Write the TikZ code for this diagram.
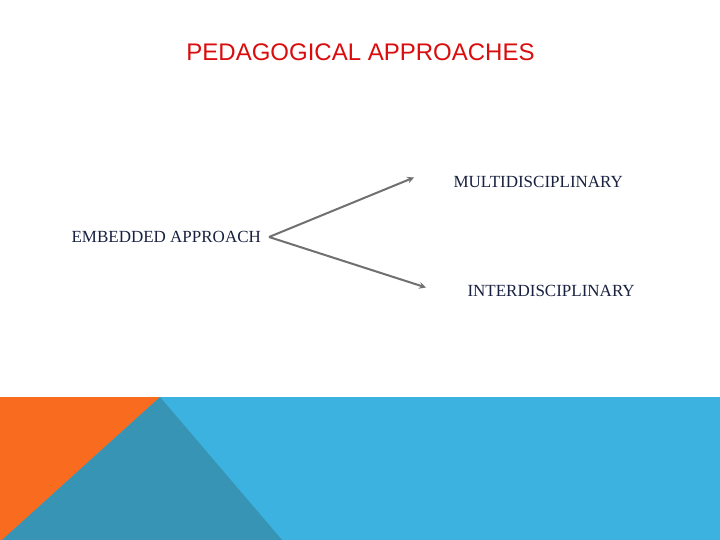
\documentclass[tikz,border=0pt]{standalone}
\usepackage{fontspec}
\setmainfont{Liberation Serif}
\newfontfamily\titlefont{Liberation Sans}
\usetikzlibrary{arrows}

\newlength{\du}
\setlength{\du}{1pt}

\begin{document}
\begin{tikzpicture}
\pgftransformxscale{1.000000}
\pgftransformyscale{-1.000000}
\useasboundingbox (0\du,0\du) rectangle (720\du,540\du);
\definecolor{dialinecolor}{rgb}{1.000000, 1.000000, 1.000000}
\pgfsetfillcolor{dialinecolor}
\fill (0\du,0\du)--(720\du,0\du)--(720\du,540\du)--(0\du,540\du)--cycle;
% bottom band
\definecolor{dialinecolor}{rgb}{0.231373, 0.698039, 0.874510}
\pgfsetfillcolor{dialinecolor}
\fill (0\du,397\du)--(720\du,397\du)--(720\du,540\du)--(0\du,540\du)--cycle;
\definecolor{dialinecolor}{rgb}{0.976471, 0.419608, 0.117647}
\pgfsetfillcolor{dialinecolor}
\fill (0\du,397\du)--(160\du,397\du)--(2\du,540\du)--(0\du,540\du)--cycle;
\definecolor{dialinecolor}{rgb}{0.219608, 0.580392, 0.705882}
\pgfsetfillcolor{dialinecolor}
\fill (160\du,397\du)--(282\du,540\du)--(2\du,540\du)--cycle;
% setfont left to latex
\definecolor{dialinecolor}{rgb}{0.850000, 0.050000, 0.050000}
\node[text=dialinecolor, font=\titlefont\fontsize{24}{29}\selectfont] (title) at (360.5\du,52\du){PEDAGOGICAL APPROACHES};
% setfont left to latex
\definecolor{dialinecolor}{rgb}{0.100000, 0.130000, 0.250000}
\node[anchor=west, text=dialinecolor, font=\fontsize{17}{20}\selectfont] (embedded) at (68\du,237\du){EMBEDDED APPROACH};
% setfont left to latex
\node[anchor=west, text=dialinecolor, font=\fontsize{17}{20}\selectfont] (multi) at (450\du,182\du){MULTIDISCIPLINARY};
% setfont left to latex
\node[anchor=west, text=dialinecolor, font=\fontsize{17}{20}\selectfont] (inter) at (464\du,291\du){INTERDISCIPLINARY};
\coordinate (fork) at (269\du,237\du);
\coordinate (multitip) at (414\du,177.5\du);
\coordinate (intertip) at (426\du,287.5\du);
\pgfsetlinewidth{2\du}
\pgfsetbuttcap
{
\definecolor{dialinecolor}{rgb}{0.440000, 0.440000, 0.440000}
\pgfsetstrokecolor{dialinecolor}
\pgfsetfillcolor{dialinecolor}
\pgfsetarrowsend{stealth}
\draw (fork)--(multitip);
\draw (fork)--(intertip);
}
\end{tikzpicture}
\end{document}
